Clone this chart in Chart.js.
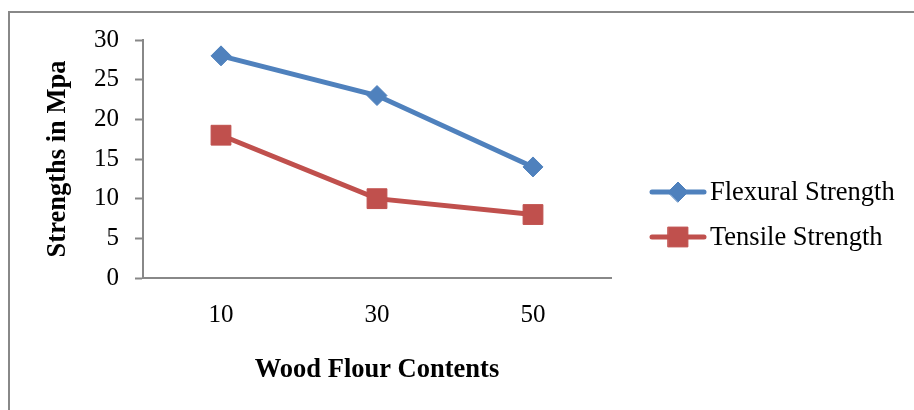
<!DOCTYPE html>
<html>
<head>
<meta charset="utf-8">
<script src="https://cdn.jsdelivr.net/npm/chart.js@4/dist/chart.umd.min.js"></script>
<style>
    html, body { margin: 0; padding: 0; background: #fff; overflow: hidden; }
    #wrap { position: relative; width: 914px; height: 410px; }
    #frame {
        position: absolute; left: 8px; top: 11px; width: 1000px; height: 1000px;
        border-top: 2px solid #888; border-left: 2px solid #888;
    }
    #chart { position: absolute; left: 0; top: 0; }
</style>
</head>
<body>
<div id="wrap">
    <div id="frame"></div>
    <canvas id="chart" width="914" height="410"></canvas>
</div>
<script>
// values
const woodFlour = ['10', '30', '50'];
const flexural = [28, 23, 14];
const tensile = [18, 10, 8];
const yTicks = [0, 5, 10, 15, 20, 25, 30];

const blue = '#4F81BD';
const red = '#C0504D';
const serif = "'Liberation Serif', 'Times New Roman', serif";

// legend drawn as line + marker, like Excel
const sideLegend = {
    id: 'sideLegend',
    afterDraw(chart) {
        const ctx = chart.ctx;
        const rows = [192, 237];
        chart.data.datasets.forEach((ds, i) => {
            const y = rows[i];
            ctx.save();
            ctx.strokeStyle = ds.borderColor;
            ctx.lineWidth = 5;
            ctx.lineCap = 'round';
            ctx.beginPath();
            ctx.moveTo(652, y);
            ctx.lineTo(704, y);
            ctx.stroke();
            ctx.fillStyle = ds.backgroundColor;
            ctx.strokeStyle = ds.borderColor;
            ctx.lineWidth = 1;
            Chart.helpers.drawPoint(ctx, {pointStyle: ds.pointStyle, rotation: 0, radius: ds.pointRadius, borderWidth: 1}, 678, y);
            ctx.fillStyle = '#000';
            ctx.font = '26.5px ' + serif;
            ctx.textAlign = 'left';
            ctx.textBaseline = 'middle';
            ctx.fillText(ds.label, 710, y + 1);
            ctx.restore();
        });
    }
};

new Chart(document.getElementById('chart'), {
    type: 'line',
    data: {
        labels: woodFlour,
        datasets: [
            {
                label: 'Flexural Strength',
                data: flexural,
                borderColor: blue,
                backgroundColor: blue,
                borderWidth: 5,
                pointStyle: 'rectRot',
                pointRadius: 10,
                pointBorderWidth: 1,
                tension: 0
            },
            {
                label: 'Tensile Strength',
                data: tensile,
                borderColor: red,
                backgroundColor: red,
                borderWidth: 5,
                pointStyle: 'rect',
                pointRadius: 14,
                pointBorderWidth: 1,
                tension: 0
            }
        ]
    },
    options: {
        responsive: false,
        animation: false,
        events: [],
        layout: { padding: { left: 0, top: 40, right: 303, bottom: 0 } },
        plugins: { legend: { display: false }, tooltip: { enabled: false } },
        scales: {
            x: {
                offset: true,
                grid: { display: false, drawTicks: false },
                border: { color: '#888', width: 2 },
                ticks: { color: '#000', font: { family: serif, size: 25 }, padding: 22, maxRotation: 0 },
                title: {
                    display: true, text: 'Wood Flour Contents', color: '#000',
                    font: { family: serif, size: 26.5, weight: 'bold' },
                    padding: { top: 0, bottom: 24 }
                },
                afterFit(scale) { scale.height = 132; }
            },
            y: {
                min: 0,
                max: 30,
                afterBuildTicks(scale) { scale.ticks = yTicks.map(v => ({ value: v })); },
                grid: { drawOnChartArea: false, drawTicks: true, tickLength: 8, tickColor: '#888', tickWidth: 2 },
                border: { color: '#888', width: 2 },
                ticks: { color: '#000', font: { family: serif, size: 25 }, padding: 16 },
                title: {
                    display: true, text: 'Strengths in Mpa', color: '#000',
                    font: { family: serif, size: 26.5, weight: 'bold' },
                    padding: { top: 42, bottom: 0 }
                },
                afterFit(scale) { scale.width = 143; }
            }
        }
    },
    plugins: [sideLegend]
});
</script>
</body>
</html>
